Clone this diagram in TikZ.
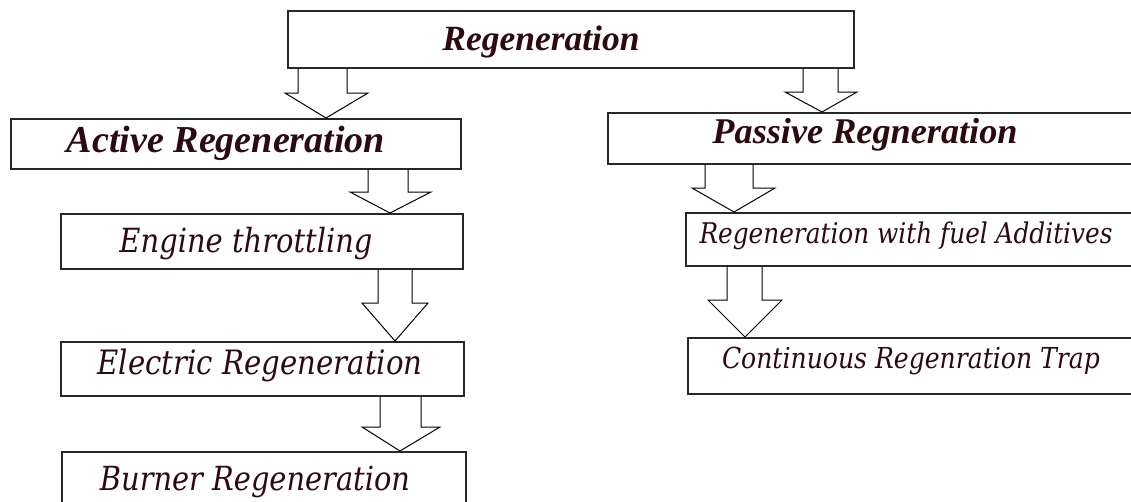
\documentclass[tikz,border=0pt]{standalone}
\usepackage{fontspec}
\usepackage{graphicx}
\usetikzlibrary{calc}
\setmainfont{Liberation Serif}
\newfontfamily\subfont{DejaVu Serif}
\definecolor{txtc}{RGB}{45,10,18}
\definecolor{boxc}{RGB}{40,40,40}
\newcommand{\fitw}[2]{\resizebox{#1pt}{!}{#2}}
\newcommand{\fitws}[2]{\scalebox{1}[1.15]{\resizebox{#1pt}{!}{#2}}}
\newcommand{\blockarrow}[8]{%
  \draw[blk] let \p1=(#1.south), \p2=(#2.north) in
    (#3,\y1) -- (#3,#7) -- (#5,#7) -- (#8,\y2) -- (#6,#7) -- (#4,#7) -- (#4,\y1);}
\begin{document}
\begin{tikzpicture}[x=1pt,y=-1pt,
  box/.style={draw=boxc,line width=1.5pt,fill=white,anchor=north west,inner sep=0pt},
  blk/.style={draw=black,line width=1pt,line join=miter},
  ttl/.style={text=txtc,anchor=base,inner sep=0pt,font=\bfseries\itshape},
  sub/.style={text=txtc,anchor=base,inner sep=0pt,font=\subfont\itshape}]
\useasboundingbox (0,0) rectangle (1131,501);
\clip (0,0) rectangle (1131,501);
\fill[white] (0,0) rectangle (1131,501);
% boxes
\node[box,minimum width=566pt,minimum height=57pt] (reg) at (287,10) {};
\node[box,minimum width=450pt,minimum height=50pt] (act) at (10,118) {};
\node[box,minimum width=526pt,minimum height=51pt] (pas) at (607,112) {};
\node[box,minimum width=402pt,minimum height=55pt] (eng) at (60,213) {};
\node[box,minimum width=403pt,minimum height=54pt] (ele) at (60,341) {};
\node[box,minimum width=404pt,minimum height=60pt] (bur) at (61,451) {};
\node[box,minimum width=448pt,minimum height=53pt] (add) at (685,212) {};
\node[box,minimum width=446pt,minimum height=56pt] (crt) at (687,337) {};
% texts
\node[ttl] (treg) at (541,50) {\fitw{197}{Regeneration}};
\node[ttl] (tact) at (226,152) {\fitw{318}{Active Regeneration}};
\node[ttl] (tpas) at (865,143) {\fitw{305}{Passive Regneration}};
\node[sub] (teng) at (246,252) {\fitws{253}{Engine throttling}};
\node[sub] (tele) at (260,374) {\fitws{325}{Electric Regeneration}};
\node[sub] (tbur) at (255,490) {\fitws{310}{Burner Regeneration}};
\node[sub] (tadd) at (906,243) {\fitws{413}{Regeneration with fuel Additives}};
\node[sub] (tcrt) at (911,368) {\fitws{378}{Continuous Regenration Trap}};
% block arrows
\blockarrow{reg}{act}{298}{347}{285}{368}{93}{326}
\blockarrow{reg}{pas}{803}{838}{785}{857}{92}{822}
\blockarrow{act}{eng}{368}{408}{350}{431}{192}{390}
\blockarrow{eng}{ele}{378}{412}{362}{428}{303}{395}
\blockarrow{ele}{bur}{380}{421}{362}{440}{427}{400}
\blockarrow{pas}{add}{705}{753}{692}{775}{188}{734}
\blockarrow{add}{crt}{727}{762}{708}{782}{300}{745}
\end{tikzpicture}
\end{document}
